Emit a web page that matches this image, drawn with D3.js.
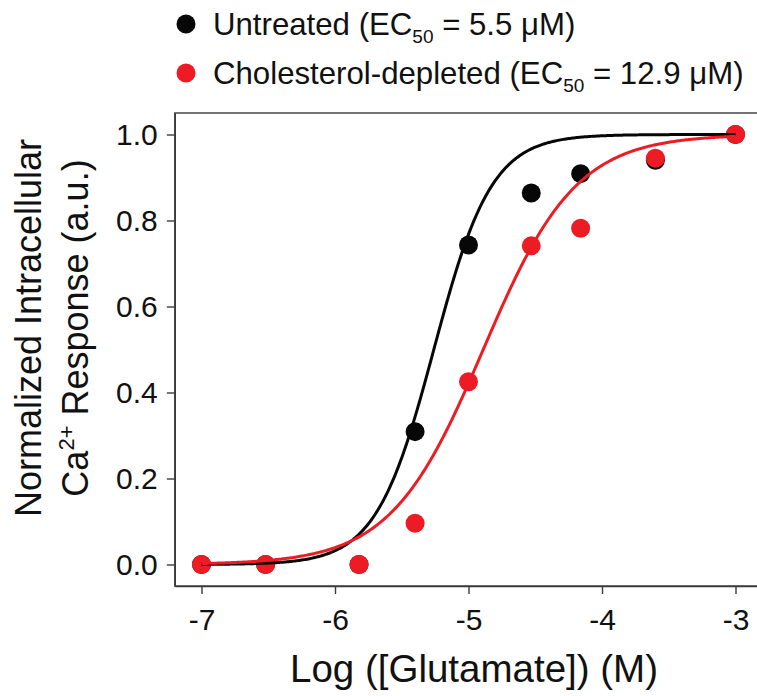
<!DOCTYPE html>
<html>
<head>
<meta charset="utf-8">
<script src="https://cdn.jsdelivr.net/npm/d3@7"></script>
<style>
  html, body { margin: 0; padding: 0; background: #fff; }
  svg { display: block; }
  text { font-family: "Liberation Sans", Arial, Helvetica, sans-serif; fill: #111; }
</style>
</head>
<body>
<svg id="chart" width="757" height="696"></svg>
<script>
// Glutamate concentrations, log10 molar
const logConc = [-7, -6.52, -5.82, -5.40, -5.0, -4.53, -4.16, -3.60, -3.0];

// Normalized Ca2+ responses
const untreated = [0.0, 0.0, 0.0, 0.309, 0.743, 0.864, 0.909, 0.940, 1.0];
const depleted  = [0.0, 0.0, 0.0, 0.096, 0.425, 0.741, 0.782, 0.945, 1.0];

// Dose-response fit parameters (EC50 in µM, Hill slope)
const seriesNames = ["Untreated", "Cholesterol-depleted"];
const ec50uM = [5.5, 12.9];
const hillSlope = [2.0, 1.25];
const seriesColors = ["#070707", "#ed1c24"];

const xTicks = [-7, -6, -5, -4, -3];
const yTicks = [0.0, 0.2, 0.4, 0.6, 0.8, 1.0];

const svg = d3.select("#chart");

const x = d3.scaleLinear().domain([-7.2, -2.8]).range([174.8, 762.2]);
const y = d3.scaleLinear().domain([-0.05, 1.05]).range([586, 113]);

const axisColor = "#3b3b3b";

// Frame
svg.append("rect")
  .attr("x", x(-7.2)).attr("y", y(1.05))
  .attr("width", x(-2.8) - x(-7.2)).attr("height", y(-0.05) - y(1.05))
  .attr("fill", "none").attr("stroke", axisColor).attr("stroke-width", 1.4);

// X axis
const gx = svg.append("g")
  .attr("transform", `translate(0,${y(-0.05)})`)
  .call(d3.axisBottom(x).tickValues(xTicks).tickSize(8).tickSizeOuter(0)
        .tickPadding(15).tickFormat(d => String(d)));
gx.select(".domain").attr("stroke", axisColor).attr("stroke-width", 1.4);
gx.selectAll(".tick line").attr("stroke", axisColor).attr("stroke-width", 1.4);
gx.selectAll(".tick text").attr("font-size", 30).attr("fill", "#111")
  .attr("font-family", "'Liberation Sans', Arial, sans-serif");

// Y axis
const gy = svg.append("g")
  .attr("transform", `translate(${x(-7.2)},0)`)
  .call(d3.axisLeft(y).tickValues(yTicks).tickSize(8).tickSizeOuter(0)
        .tickPadding(9).tickFormat(d3.format(".1f")));
gy.select(".domain").attr("stroke", axisColor).attr("stroke-width", 1.4);
gy.selectAll(".tick line").attr("stroke", axisColor).attr("stroke-width", 1.4);
gy.selectAll(".tick text").attr("font-size", 30).attr("fill", "#111")
  .attr("font-family", "'Liberation Sans', Arial, sans-serif");

// Axis titles
svg.append("text")
  .attr("x", 474).attr("y", 682)
  .attr("text-anchor", "middle").attr("font-size", 38.5)
  .text("Log ([Glutamate]) (M)");

const yTitle = svg.append("text")
  .attr("transform", "translate(0,328) rotate(-90)")
  .attr("text-anchor", "middle").attr("font-size", 36);
yTitle.append("tspan").attr("x", 0).attr("y", 41).text("Normalized Intracellular");
const l2 = yTitle.append("tspan").attr("x", 0).attr("y", 88);
l2.append("tspan").text("Ca");
l2.append("tspan").attr("font-size", 22).attr("dy", -14).text("2+");
l2.append("tspan").attr("dy", 14).text(" Response (a.u.)");

// Points: untreated first, depleted on top
const seriesData = [untreated, depleted];
seriesData.forEach((vals, i) => {
  svg.append("g").selectAll("circle")
    .data(vals.map((v, j) => [logConc[j], v]))
    .join("circle")
    .attr("cx", d => x(d[0])).attr("cy", d => y(d[1]))
    .attr("r", 9.5).attr("fill", seriesColors[i]);
});

// Fitted Hill curves
const curveX = d3.range(0, 401).map(k => -7 + k * 0.01);
const line = d3.line().x(d => x(d[0])).y(d => y(d[1])).curve(d3.curveLinear);
ec50uM.forEach((ec, i) => {
  const logEC = Math.log10(ec * 1e-6);
  const pts = curveX.map(v => [v, 1 / (1 + Math.pow(10, (logEC - v) * hillSlope[i]))]);
  svg.append("path").datum(pts)
    .attr("d", line).attr("fill", "none")
    .attr("stroke", seriesColors[i]).attr("stroke-width", 3);
});

// Legend
const legendRows = [
  { name: seriesNames[0], ec: "5.5" },
  { name: seriesNames[1], ec: "12.9" }
];
legendRows.forEach((r, i) => {
  const cy = 24 + i * 49;
  svg.append("circle").attr("cx", 186).attr("cy", cy).attr("r", 9.5).attr("fill", seriesColors[i]);
  const t = svg.append("text").attr("x", 213).attr("y", cy + 11).attr("font-size", 31.2);
  t.append("tspan").text(`${r.name} (EC`);
  t.append("tspan").attr("font-size", 19).attr("dy", 8).text("50");
  t.append("tspan").attr("dy", -8).text(` = ${r.ec} μM)`);
});
</script>
</body>
</html>
